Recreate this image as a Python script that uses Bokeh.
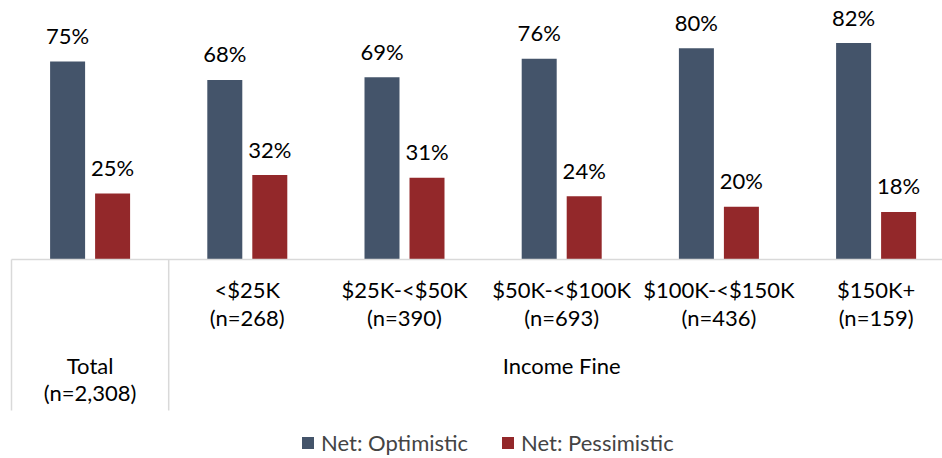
from bokeh.plotting import figure, ColumnDataSource
from bokeh.models import Range1d, Legend, LegendItem
from bokeh.transform import dodge
from bokeh.core.properties import value
from bokeh.embed import file_html
from bokeh.resources import INLINE

# ---- data ----
categories = ["Total", "<$25K", "$25K-<$50K", "$50K-<$100K", "$100K-<$150K", "$150K+"]
n_labels = ["(n=2,308)", "(n=268)", "(n=390)", "(n=693)", "(n=436)", "(n=159)"]
optimistic = [75, 68, 69, 76, 80, 82]
pessimistic = [25, 32, 31, 24, 20, 18]
group_label = "Income Fine"
series_names = ["Net: Optimistic", "Net: Pessimistic"]

# ---- style / layout ----
BLUE = "#44546A"
RED = "#93282A"
FONT = "Lato"
FS = "22px"
W, H = 942, 458
CAT_PX = 157.2        # px per category
LEFT_PX = 11          # px from figure left to first category edge
ZERO_PX = 259         # px from figure top to the zero line
PX_PER_UNIT = 2.64    # px per percentage point
BAR_PX = 35
DODGE_PX = 22.5

x_start = -LEFT_PX / CAT_PX
x_end = (W - LEFT_PX) / CAT_PX
y_end = ZERO_PX / PX_PER_UNIT
y_start = -(H - ZERO_PX) / PX_PER_UNIT

p = figure(width=W, height=H, output_backend="svg", toolbar_location=None,
           x_range=Range1d(x_start, x_end), y_range=Range1d(y_start, y_end),
           x_axis_location=None, y_axis_location=None,
           min_border=0, min_border_left=0, min_border_right=0,
           min_border_top=0, min_border_bottom=0)
p.outline_line_color = None
p.grid.visible = False
p.background_fill_color = "white"
p.border_fill_color = "white"

xs = [i + 0.5 for i in range(len(categories))]
src = ColumnDataSource(dict(
    x=xs, cat=categories, n=n_labels,
    opt=optimistic, pes=pessimistic,
    opt_lbl=[f"{v}%" for v in optimistic],
    pes_lbl=[f"{v}%" for v in pessimistic],
))

d = DODGE_PX / CAT_PX
bw = BAR_PX / CAT_PX
r_opt = p.vbar(x=dodge("x", -d, range=p.x_range), top="opt", bottom=0, width=bw,
               source=src, fill_color=BLUE, line_color=None)
r_pes = p.vbar(x=dodge("x", d, range=p.x_range), top="pes", bottom=0, width=bw,
               source=src, fill_color=RED, line_color=None)

# value labels
for col, lbl, sgn in (("opt", "opt_lbl", -1), ("pes", "pes_lbl", 1)):
    p.text(x=dodge("x", sgn * d, range=p.x_range), y=col, text=lbl, source=src,
           y_offset=-26, text_align="center", text_baseline="alphabetic",
           text_font=value(FONT), text_font_size=FS, text_color="black")

# axis line and separators
n = len(categories)
p.segment(x0=[0], y0=[0], x1=[n], y1=[0], line_color="#D9D9D9", line_width=1.5)
sep_depth = -151 / PX_PER_UNIT
p.segment(x0=[0, 1], y0=[0, 0], x1=[0, 1], y1=[sep_depth, sep_depth],
          line_color="#D9D9D9", line_width=1.5)

def label(source, field, off):
    p.text(x="x", y="y", text=field, source=source, y_offset=off,
           text_align="center", text_baseline="alphabetic",
           text_font=value(FONT), text_font_size=FS, text_color="black")

# category labels (income groups: two lines under the axis)
inc = ColumnDataSource(dict(x=xs[1:], cat=categories[1:], n=n_labels[1:],
                            y=[0] * (n - 1)))
label(inc, "cat", 30)
label(inc, "n", 58)

# Total label (lower level)
tot = ColumnDataSource(dict(x=xs[:1], cat=categories[:1], n=n_labels[:1], y=[0]))
label(tot, "cat", 106)
label(tot, "n", 133)

# group label
grp = ColumnDataSource(dict(x=[(1 + n) / 2], y=[0], t=[group_label]))
label(grp, "t", 106)

legend = Legend(items=[LegendItem(label=series_names[0], renderers=[r_opt]),
                       LegendItem(label=series_names[1], renderers=[r_pes])],
                orientation="horizontal", location=(300, 2),
                glyph_width=15, glyph_height=15, label_standoff=6, spacing=32,
                padding=0, margin=0, border_line_color=None,
                background_fill_alpha=0, label_text_font=FONT,
                label_text_font_size=FS, label_height=20,
                label_text_baseline="middle")
p.add_layout(legend, "center")

open("out.html", "w").write(file_html(p, INLINE))
